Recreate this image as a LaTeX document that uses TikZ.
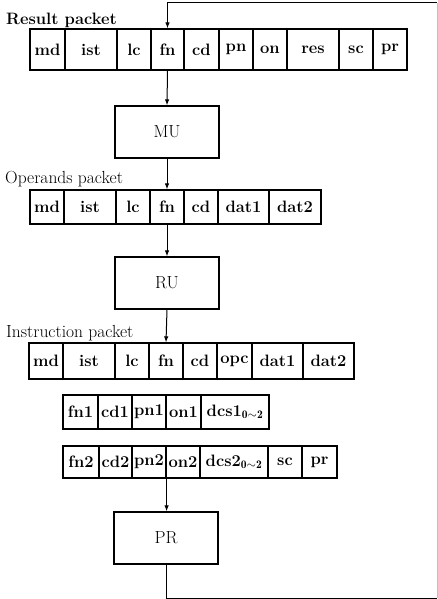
\documentclass[tikz,border=0pt]{standalone}
\usepackage{fontspec}
\usetikzlibrary{arrows.meta}

\tikzset{
  cell/.style={draw, line width=1.2pt, rectangle, inner sep=0pt,
    font=\fontsize{16.5}{18}\bfseries\selectfont},
  unit/.style={draw, line width=1.3pt, rectangle, inner sep=0pt,
    minimum width=104pt, minimum height=52pt,
    font=\fontsize{17.5}{19}\selectfont},
  boldtitle/.style={anchor=base west, inner sep=0pt,
    font=\fontsize{16.5}{18}\bfseries\selectfont},
  title/.style={anchor=base west, inner sep=0pt,
    font=\fontsize{17.5}{20}\selectfont},
  flow/.style={line width=1pt, -{Latex[length=6pt,width=4.5pt]}},
  link/.style={line width=1pt},
  faint/.style={line width=0.7pt, black!25},
}

% one row of packet fields: prefix, top, bottom, list of name/label/left/right
\newcommand\fieldrow[4]{%
  \foreach \n/\t/\l/\r in {#4}{%
    \node[cell, minimum width={(\r-\l)*1pt}, minimum height={(#3-#2)*1pt}]
      (#1-\n) at ({(\l+\r)/2},{(#2+#3)/2}) {\t};
  }%
}

\begin{document}
\begin{tikzpicture}[x=1pt, y=-1pt]
\useasboundingbox (0,0) rectangle (438,599);

% result packet
\node[boldtitle] (tres) at (6,25) {Result packet};
\fieldrow{r}{29}{70}{md/md/30/65, ist/ist/65/117, lc/lc/117/151, fn/fn/151/184,
  cd/cd/184/219, pn/pn/219/253, on/on/253/287, res/res/287/339,
  sc/sc/339/373, pr/pr/373/407}

\node[unit] (MU) at (167,132) {MU};

% operands packet
\node[title] (topd) at (5,183) {Operands packet};
\fieldrow{o}{190}{224}{md/md/30/64, ist/ist/64/116, lc/lc/116/150, fn/fn/150/184,
  cd/cd/184/218, dat1/dat1/218/269, dat2/dat2/269/321}

\node[unit] (RU) at (167,283) {RU};

% instruction packet
\node[title] (tins) at (6,337) {Instruction packet};
\fieldrow{i}{343}{379}{md/md/29/63, ist/ist/63/115, lc/lc/115/149, fn/fn/149/183,
  cd/cd/183/217, opc/opc/217/252, dat1/dat1/252/303, dat2/dat2/303/354}
\fieldrow{a}{395}{429}{fn1/fn1/63/98, cd1/cd1/98/132, pn1/pn1/132/166,
  on1/on1/166/201, dcs1/{dcs1$_{\mathbf{0}\sim\mathbf{2}}$}/201/269}
\fieldrow{b}{446}{478}{fn2/fn2/63/99, cd2/cd2/99/132, pn2/pn2/132/166,
  on2/on2/166/200, dcs2/{dcs2$_{\mathbf{0}\sim\mathbf{2}}$}/200/268,
  sc/sc/268/302, pr/pr/302/337}

\node[unit] (PR) at (166,538) {PR};

% main flow
\draw[flow] (r-fn.south) -- (MU.north);
\draw[flow] (MU.south) -- (o-fn.north);
\draw[flow] (o-fn.south) -- (RU.north);
\draw[flow] (RU.south) -- (i-fn.north);
\draw[flow] (b-pn2.south east) -- (b-pn2.south east |- PR.north);

% feedback loop from PR back to the result packet
\coordinate (loopbr) at (437,598);
\coordinate (looptr) at (437,3);
\draw[link] (PR.south) |- (loopbr);
\draw[faint] (loopbr) -- (looptr);
\draw[flow] (looptr) -| (r-fn.north);
\end{tikzpicture}
\end{document}
